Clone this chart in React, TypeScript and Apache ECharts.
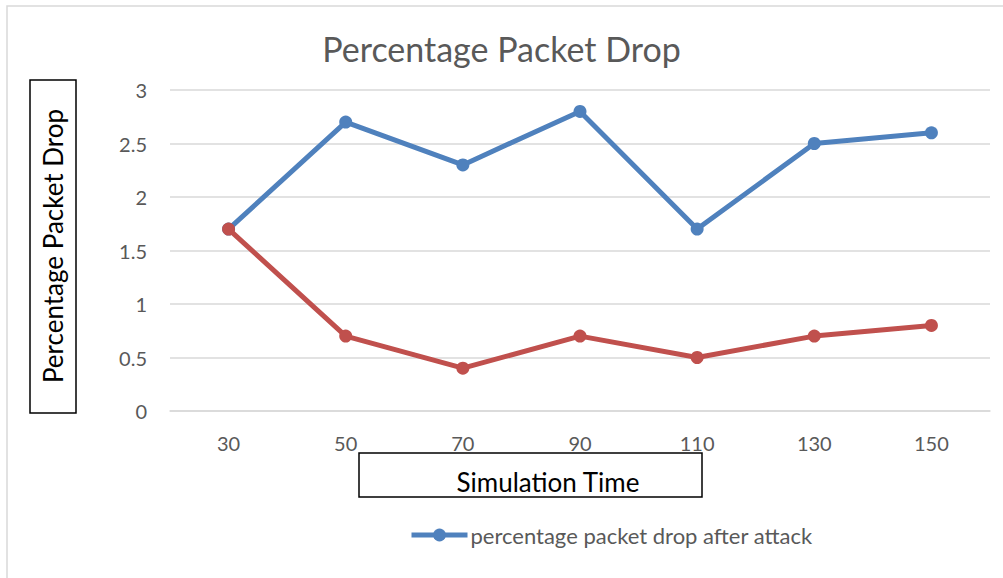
import React, { useEffect, useRef } from "react";
import * as echarts from "echarts";

const categories = ["30", "50", "70", "90", "110", "130", "150"];
const afterAttack = [1.7, 2.7, 2.3, 2.8, 1.7, 2.5, 2.6];
const beforeAttack = [1.7, 0.7, 0.4, 0.7, 0.5, 0.7, 0.8];
const seriesNames = ["percentage packet drop after attack", "percentage packet drop before attack"];
const titleText = "Percentage Packet Drop";
const yTitle = "Percentage Packet Drop";
const xTitle = "Simulation Time";

const FONT = "Lato, 'Open Sans', sans-serif";

export default function App() {
  const ref = useRef<HTMLDivElement>(null);
  useEffect(() => {
    if (!ref.current) return;
    const chart = echarts.init(ref.current, undefined, { renderer: "svg" });
    chart.setOption({
      animation: false,
      backgroundColor: "#ffffff",
      title: {
        text: titleText,
        left: "center",
        top: 26,
        textStyle: { fontFamily: FONT, fontSize: 34, fontWeight: "normal", color: "#595959" },
      },
      legend: {
        data: [seriesNames[0]],
        left: 404,
        top: 519,
        itemWidth: 56,
        itemHeight: 16,
        itemGap: 10,
        lineStyle: { width: 5 },
        textStyle: { fontFamily: FONT, fontSize: 22, color: "#595959", padding: [0, 0, 0, -2] },
      },
      grid: { left: 170, right: 13, top: 90, bottom: 167, containLabel: false },
      xAxis: {
        type: "category",
        data: categories,
        boundaryGap: true,
        axisLine: { lineStyle: { color: "#d9d9d9", width: 1.5 } },
        axisTick: { show: false },
        axisLabel: { fontFamily: FONT, fontSize: 20, color: "#595959", margin: 22 },
      },
      yAxis: {
        type: "value",
        min: 0,
        max: 3,
        interval: 0.5,
        axisLine: { show: false },
        axisTick: { show: false },
        splitLine: { lineStyle: { color: "#d9d9d9", width: 1.5 } },
        axisLabel: { fontFamily: FONT, fontSize: 20, color: "#595959", margin: 23 },
      },
      series: [
        {
          name: seriesNames[0],
          type: "line",
          data: afterAttack,
          symbol: "circle",
          symbolSize: 13,
          lineStyle: { color: "#4F81BD", width: 5 },
          itemStyle: { color: "#4F81BD" },
          z: 2,
        },
        {
          name: seriesNames[1],
          type: "line",
          data: beforeAttack,
          symbol: "circle",
          symbolSize: 13,
          lineStyle: { color: "#C0504D", width: 5 },
          itemStyle: { color: "#C0504D" },
          z: 3,
        },
      ],
      graphic: [
        {
          type: "rect",
          shape: { x: 7, y: 6, width: 1200, height: 800 },
          style: { fill: "none", stroke: "#d9d9d9", lineWidth: 1.5 },
          silent: true,
        },
        {
          type: "rect",
          shape: { x: 30, y: 80, width: 46, height: 333 },
          style: { fill: "none", stroke: "#000000", lineWidth: 1.5 },
          silent: true,
        },
        {
          type: "text",
          x: 53,
          y: 246,
          rotation: Math.PI / 2,
          style: {
            text: yTitle,
            fontFamily: FONT,
            fontSize: 26,
            fill: "#000000",
            align: "center",
            verticalAlign: "middle",
          },
          silent: true,
        },
        {
          type: "rect",
          shape: { x: 359, y: 453, width: 343, height: 44 },
          style: { fill: "none", stroke: "#000000", lineWidth: 1.5 },
          silent: true,
        },
        {
          type: "text",
          x: 548,
          y: 482,
          style: {
            text: xTitle,
            fontFamily: FONT,
            fontSize: 26,
            fill: "#000000",
            align: "center",
            verticalAlign: "middle",
          },
          silent: true,
        },
      ],
    });
    return () => chart.dispose();
  }, []);
  return (
    <div
      ref={ref}
      style={{ position: "fixed", left: 0, top: 0, width: 1003, height: 578 }}
    />
  );
}
